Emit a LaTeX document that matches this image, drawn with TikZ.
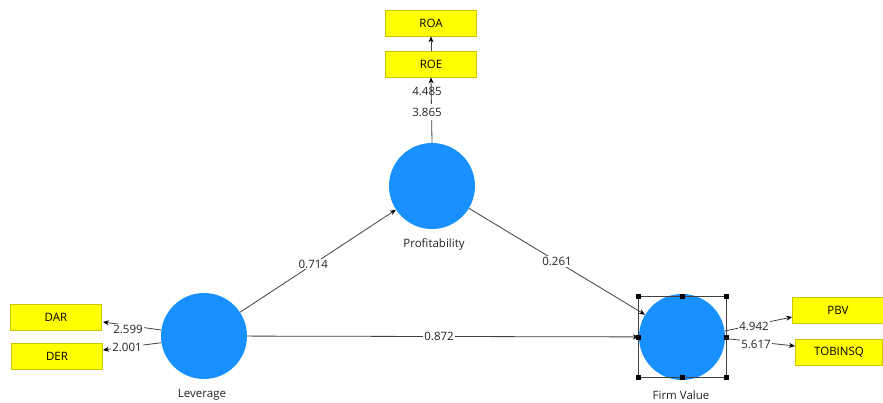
\documentclass[tikz,border=0pt]{standalone}
\usepackage{fontspec}
\setmainfont{Open Sans}
\usetikzlibrary{calc,arrows.meta}
\definecolor{lvblue}{RGB}{25,144,255}
\definecolor{boxyellow}{RGB}{255,255,0}
\definecolor{boxborder}{RGB}{200,200,0}
\definecolor{linegray}{RGB}{64,64,64}
\definecolor{txtgray}{RGB}{35,35,35}
\begin{document}
\begin{tikzpicture}[x=1pt,y=-1pt, font=\fontsize{11.5}{13}\selectfont, text=txtgray,
 latent/.style={circle, fill=lvblue, minimum size=86pt, inner sep=0pt},
 indic/.style={draw=boxborder, fill=boxyellow, minimum width=91pt, minimum height=26pt, inner sep=0pt, line width=0.8pt, text=black},
 conn/.style={draw=linegray, line width=0.8pt, -{Stealth[length=6pt,width=5pt,color=black]}},
 val/.style={fill=white, inner sep=1pt},
 handle/.style={fill=black, minimum size=5pt, inner sep=0pt}]
\useasboundingbox (0,0) rectangle (883,403);
% indicators
\node[indic] (roa) at (431,23) {ROA};
\node[indic] (roe) at (431,64) {ROE};
\node[indic] (dar) at (56,317) {DAR};
\node[indic] (der) at (57,356) {DER};
\node[indic] (pbv) at (838,310) {PBV};
\node[indic, minimum width=87pt] (tob) at (839,352) {TOBINSQ};
% latent variables
\node[latent] (prof) at (432,186) {};
\node[latent] (lev) at (204,336) {};
\node[latent] (fv) at (682,337) {};
\node (proflbl) at (434,244) {Profitability};
\node (levlbl) at (202,395) {Leverage};
\node (fvlbl) at (681,395) {Firm Value};
% selection frame
\draw[linegray, line width=0.7pt] (638,296) rectangle (726,377);
\foreach \p [count=\i] in {(638,296),(682,296),(726,296),(638,337),(726,337),(638,377),(682,377),(726,377)}
  \node[handle] (h\i) at \p {};
% structural paths
\draw[conn] (lev) -- (prof) node[val, pos=0.47] (v1) {0.714};
\draw[conn] (prof) -- (fv) node[val, pos=0.5] (v2) {0.261};
\draw[conn] (lev) -- (fv) node[val, pos=0.49] (v3) {0.872};
% measurement paths
\draw[conn] (roe.north) -- (roa.south);
\draw[conn] (prof.north) -- (roe.south);
\node[inner sep=1pt] (l1) at (427,91) {4.485};
\node[val, inner ysep=4pt] (l2) at (427,112) {3.865};
\draw[conn] (lev.172) -- ($(dar.east)+(1,5)$);
\draw[conn] (lev.189) -- ($(der.east)+(0,-6)$);
\node[val] (l3) at (128,329) {2.599};
\node[val] (l4) at (127,347) {2.001};
\draw[conn] (fv.8) -- ($(pbv.west)+(0,7)$);
\draw[conn] (fv.358) -- ($(tob.west)+(0,-6)$);
\node[val] (l5) at (754,326) {4.942};
\node[val] (l6) at (756,344) {5.617};
\end{tikzpicture}
\end{document}
